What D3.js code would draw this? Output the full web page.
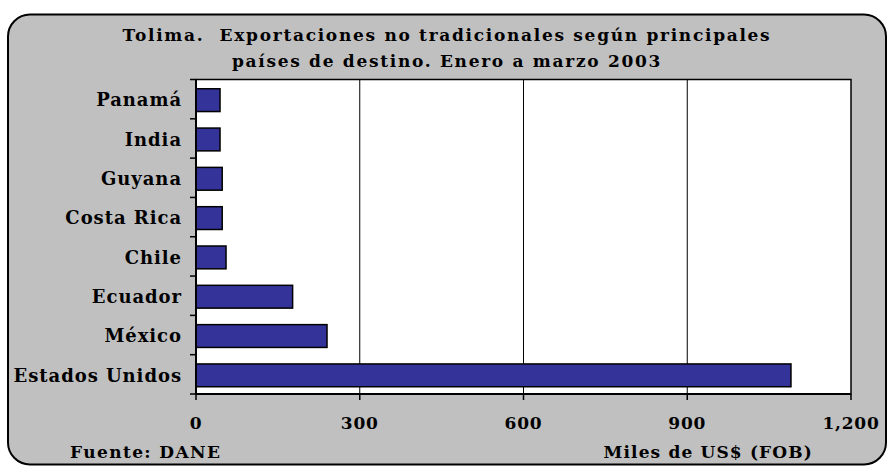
<!DOCTYPE html>
<html>
  <head>
    <meta charset="utf-8">
    <script src="https://cdn.jsdelivr.net/npm/d3@7"></script>
    <style>
        body { margin: 0; background: white; }
        text { font-family: "DejaVu Serif", serif; font-weight: bold; fill: black; }
    </style>
  </head>

  <body>
    <div id="my_dataviz"></div>
  </body>

  <script>

    // data (miles de US$ FOB)
    let countries = ["Panamá", "India", "Guyana", "Costa Rica", "Chile", "Ecuador", "México", "Estados Unidos"];
    let values = [44, 44, 48, 48, 55, 177, 240, 1090];
    let xTicks = [0, 300, 600, 900, 1200];
    let titleLines = ["Tolima.  Exportaciones no tradicionales según principales",
                      "países de destino. Enero a marzo 2003"];

    let W = 888, H = 466;
    let margin = {top: 79.5, right: 37, bottom: 72, left: 196},
        width = W - margin.left - margin.right,
        height = H - margin.top - margin.bottom;

    let root = d3.select("#my_dataviz")
                 .append("svg")
                   .attr("width", W)
                   .attr("height", H);

    // grey rounded frame
    root.append("rect")
        .attr("x", 8).attr("y", 14.5)
        .attr("width", 878).attr("height", 450)
        .attr("rx", 22).attr("ry", 22)
        .attr("fill", "#c0c0c0")
        .attr("stroke", "black")
        .attr("stroke-width", 2);

    root.selectAll(".title")
        .data(titleLines)
        .enter()
        .append("text")
          .attr("class", "title")
          .attr("x", 447)
          .attr("y", function(d, i) { return 41 + i * 26 })
          .attr("text-anchor", "middle")
          .style("font-size", "17px")
          .style("letter-spacing", "1.7px")
          .style("white-space", "pre")
          .text(function(d) { return d });

    let svg = root.append("g")
                  .attr("transform", "translate(" + margin.left + "," + margin.top + ")");

    let x = d3.scaleLinear()
              .domain([0, 1200])
              .range([0, width]);

    let y = d3.scaleBand()
              .domain(countries)
              .range([0, height])
              .paddingInner(0.42)
              .paddingOuter(0.21);

    // plot area
    svg.append("rect")
       .attr("width", width)
       .attr("height", height)
       .attr("fill", "white")
       .attr("stroke", "black")
       .attr("stroke-width", 1.5);

    // vertical gridlines
    svg.selectAll(".grid")
       .data(xTicks.slice(1, -1))
       .enter()
       .append("line")
         .attr("x1", function(d) { return x(d) })
         .attr("x2", function(d) { return x(d) })
         .attr("y1", 0)
         .attr("y2", height)
         .attr("stroke", "black")
         .attr("stroke-width", 1);

    svg.selectAll(".bar")
       .data(values)
       .enter()
       .append("rect")
         .attr("x", x(0))
         .attr("y", function(d, i) { return y(countries[i]) + 1 })
         .attr("width", function(d) { return x(d) - x(0) })
         .attr("height", y.bandwidth())
         .attr("fill", "#333399")
         .attr("stroke", "black")
         .attr("stroke-width", 1.5);

    // category axis: ticks on band boundaries
    let bounds = d3.range(countries.length + 1).map(function(i) { return i * height / countries.length });
    svg.selectAll(".ytick")
       .data(bounds)
       .enter()
       .append("line")
         .attr("x1", -6).attr("x2", 0)
         .attr("y1", function(d) { return d })
         .attr("y2", function(d) { return d })
         .attr("stroke", "black")
         .attr("stroke-width", 1.5);

    svg.append("line")
       .attr("x1", 0).attr("x2", 0)
       .attr("y1", 0).attr("y2", height)
       .attr("stroke", "black")
       .attr("stroke-width", 2);

    svg.selectAll(".ylabel")
       .data(countries)
       .enter()
       .append("text")
         .attr("x", -14)
         .attr("y", function(d) { return y(d) + y.bandwidth() / 2 + 1 })
         .attr("dy", "0.35em")
         .attr("text-anchor", "end")
         .style("font-size", "18px")
         .style("letter-spacing", "0.95px")
         .text(function(d) { return d });

    // value axis
    svg.append("line")
       .attr("x1", 0).attr("x2", width)
       .attr("y1", height).attr("y2", height)
       .attr("stroke", "black")
       .attr("stroke-width", 2);

    svg.selectAll(".xtick")
       .data(xTicks)
       .enter()
       .append("line")
         .attr("x1", function(d) { return x(d) })
         .attr("x2", function(d) { return x(d) })
         .attr("y1", height)
         .attr("y2", height + 6)
         .attr("stroke", "black")
         .attr("stroke-width", 1.5);

    svg.selectAll(".xlabel")
       .data(xTicks)
       .enter()
       .append("text")
         .attr("x", function(d) { return x(d) })
         .attr("y", height + 35)
         .attr("text-anchor", "middle")
         .style("font-size", "17px")
         .style("letter-spacing", "0.8px")
         .text(function(d) { return d3.format(",")(d) });

    root.append("text")
        .attr("x", 70).attr("y", 458)
        .style("font-size", "17px")
        .style("letter-spacing", "1.4px")
        .text("Fuente: DANE");

    root.append("text")
        .attr("x", 813).attr("y", 458)
        .attr("text-anchor", "end")
        .style("font-size", "17px")
        .style("letter-spacing", "1.15px")
        .text("Miles de US$ (FOB)");

  </script>
</html>
